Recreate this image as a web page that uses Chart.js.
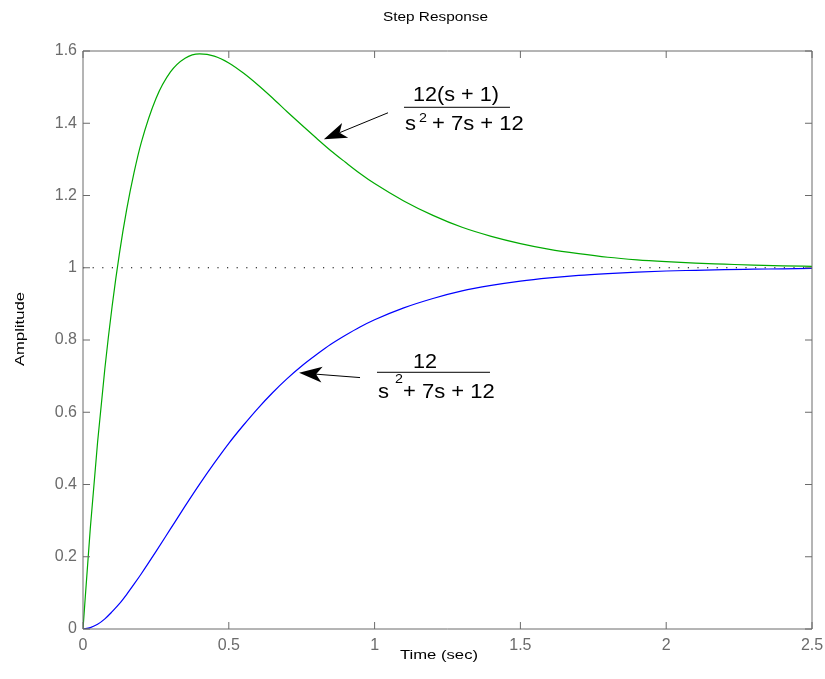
<!DOCTYPE html>
<html><head><meta charset="utf-8">
<script src="https://cdn.jsdelivr.net/npm/chart.js@4/dist/chart.umd.min.js"></script>
<style>html,body{margin:0;padding:0;background:#fff;}#wrap{width:825px;height:679px;position:relative;}</style>
</head><body><div id="wrap"><canvas id="c" width="825" height="679"></canvas></div>
<script>
// ---- data ----
const timeSec = [0, 0.025, 0.05, 0.075, 0.1, 0.125, 0.15, 0.175, 0.2, 0.25, 0.3, 0.35, 0.4, 0.45, 0.5, 0.55, 0.6, 0.65, 0.7, 0.75, 0.8, 0.85, 0.9, 0.95, 1.0, 1.1, 1.2, 1.3, 1.4, 1.5, 1.6, 1.7, 1.8, 1.9, 2.0, 2.1, 2.2, 2.3, 2.4, 2.5];
const respWithZero = [0, 0.278, 0.517, 0.721, 0.894, 1.040, 1.162, 1.263, 1.347, 1.468, 1.542, 1.580, 1.592, 1.586, 1.567, 1.539, 1.506, 1.470, 1.432, 1.395, 1.359, 1.324, 1.292, 1.261, 1.233, 1.185, 1.145, 1.112, 1.087, 1.067, 1.051, 1.039, 1.029, 1.022, 1.017, 1.013, 1.010, 1.007, 1.005, 1.004];
const respNoZero = [0, 0.004, 0.013, 0.028, 0.048, 0.070, 0.096, 0.124, 0.153, 0.214, 0.277, 0.340, 0.401, 0.459, 0.514, 0.564, 0.611, 0.654, 0.693, 0.728, 0.759, 0.788, 0.813, 0.836, 0.856, 0.889, 0.915, 0.936, 0.951, 0.963, 0.972, 0.979, 0.984, 0.988, 0.991, 0.993, 0.995, 0.996, 0.997, 0.998];
const refTime = [0, 2.5];
const refLevel = [1, 1];
const xTickValues = [0, 0.5, 1, 1.5, 2, 2.5];
const xTickLabels = ['0', '0.5', '1', '1.5', '2', '2.5'];
const yTickValues = [0, 0.2, 0.4, 0.6, 0.8, 1, 1.2, 1.4, 1.6];
const yTickLabels = ['0', '0.2', '0.4', '0.6', '0.8', '1', '1.2', '1.4', '1.6'];
const chartTitle = 'Step Response';
const xAxisTitle = 'Time (sec)';
const yAxisTitle = 'Amplitude';
const labelWithZero = ['12(s + 1)', 's', '2', '+ 7s + 12'];
const labelNoZero = ['12', 's', '2', '+ 7s + 12'];

// ---- styling / placement ----
const FONT = "'Liberation Sans', Arial, Helvetica, sans-serif";
const AXIS_GRAY = '#6b6b6b';
const annotationStyle = [
  { text: labelWithZero, tip: [0.826, 1.356], tail: [1.046, 1.429], bar: [1.1008, 1.4442], barW: 106,
    numDx: 9, numDy: -6.6, denDx: [1, 15, 28], denDy: [22.7, 14.4, 22.7] },
  { text: labelNoZero, tip: [0.741, 0.709], tail: [0.950, 0.696], bar: [1.0082, 0.7106], barW: 113,
    numDx: 36, numDy: -4.3, denDx: [1, 18, 26], denDy: [25.7, 10.4, 25.7] }
];

function stretchText(ctx, text, x, y, size, opt) {
  opt = opt || {};
  ctx.save();
  ctx.font = size + 'px ' + FONT;
  ctx.fillStyle = opt.color || '#000';
  ctx.textBaseline = 'alphabetic';
  ctx.textAlign = 'left';
  const w = ctx.measureText(text).width;
  const sx = opt.width ? opt.width / w : (opt.sx || 1);
  ctx.translate(x, y);
  if (opt.rotate) ctx.rotate(opt.rotate);
  ctx.scale(sx, 1);
  const off = opt.align === 'center' ? -w / 2 : 0;
  ctx.fillText(text, off, 0);
  ctx.restore();
}

function drawArrow(ctx, x1, y1, x2, y2) {
  const a = Math.atan2(y2 - y1, x2 - x1);
  const dx = Math.cos(a), dy = Math.sin(a);
  const px = -dy, py = dx;
  const L = 23, W = 8, N = 6;
  ctx.save();
  ctx.strokeStyle = '#000'; ctx.fillStyle = '#000'; ctx.lineWidth = 1;
  ctx.beginPath();
  ctx.moveTo(x1, y1);
  ctx.lineTo(x2 - (L - N) * dx, y2 - (L - N) * dy);
  ctx.stroke();
  ctx.beginPath();
  ctx.moveTo(x2, y2);
  ctx.lineTo(x2 - L * dx + W * px, y2 - L * dy + W * py);
  ctx.lineTo(x2 - (L - N) * dx, y2 - (L - N) * dy);
  ctx.lineTo(x2 - L * dx - W * px, y2 - L * dy - W * py);
  ctx.closePath();
  ctx.fill();
  ctx.restore();
}

const decorPlugin = {
  id: 'decor',
  afterDatasetsDraw(chart) {
    const ctx = chart.ctx;
    const a = chart.chartArea;
    const xs = chart.scales.x, ys = chart.scales.y;
    // frame
    ctx.save();
    ctx.strokeStyle = AXIS_GRAY; ctx.lineWidth = 1;
    ctx.beginPath();
    ctx.rect(a.left, a.top, a.right - a.left, a.bottom - a.top);
    ctx.stroke();
    // inward ticks
    const T = 7;
    ctx.beginPath();
    xTickValues.forEach(v => {
      const p = xs.getPixelForValue(v);
      ctx.moveTo(p, a.bottom); ctx.lineTo(p, a.bottom - T);
      ctx.moveTo(p, a.top); ctx.lineTo(p, a.top + T);
    });
    yTickValues.forEach(v => {
      const p = ys.getPixelForValue(v);
      ctx.moveTo(a.left, p); ctx.lineTo(a.left + T, p);
      ctx.moveTo(a.right, p); ctx.lineTo(a.right - T, p);
    });
    ctx.stroke();
    ctx.restore();
    // titles
    stretchText(ctx, chartTitle, 435.5, 21, 13, { align: 'center', width: 105 });
    stretchText(ctx, xAxisTitle, 439, 658.5, 13, { align: 'center', width: 78 });
    stretchText(ctx, yAxisTitle, 24, 329, 13, { align: 'center', width: 74, rotate: -Math.PI / 2 });
    // annotations
    annotationStyle.forEach(an => {
      const bx = xs.getPixelForValue(an.bar[0]);
      const by = ys.getPixelForValue(an.bar[1]);
      ctx.save();
      ctx.strokeStyle = '#000'; ctx.lineWidth = 1;
      ctx.beginPath(); ctx.moveTo(bx, by); ctx.lineTo(bx + an.barW, by); ctx.stroke();
      ctx.restore();
      stretchText(ctx, an.text[0], bx + an.numDx, by + an.numDy, 20, { sx: 1.08 });
      stretchText(ctx, an.text[1], bx + an.denDx[0], by + an.denDy[0], 20, { sx: 1.1 });
      stretchText(ctx, an.text[2], bx + an.denDx[1], by + an.denDy[1], 13, { sx: 1.1 });
      stretchText(ctx, an.text[3], bx + an.denDx[2], by + an.denDy[2], 20, { sx: 1.1 });
      drawArrow(ctx, xs.getPixelForValue(an.tail[0]), ys.getPixelForValue(an.tail[1]),
                     xs.getPixelForValue(an.tip[0]), ys.getPixelForValue(an.tip[1]));
    });
  }
};

const toPts = (xv, yv) => xv.map((x, i) => ({ x: x, y: yv[i] }));

new Chart(document.getElementById('c'), {
  type: 'line',
  data: {
    datasets: [
      { label: '12/(s^2+7s+12)', data: toPts(timeSec, respNoZero), borderColor: '#0000ff', borderWidth: 1.2,
        pointRadius: 0, cubicInterpolationMode: 'monotone', fill: false },
      { label: '12(s+1)/(s^2+7s+12)', data: toPts(timeSec, respWithZero), borderColor: '#00aa00', borderWidth: 1.2,
        pointRadius: 0, cubicInterpolationMode: 'monotone', fill: false },
      { label: 'steady state', data: toPts(refTime, refLevel), borderColor: '#000', borderWidth: 1.2,
        borderDash: [1.2, 8.4], pointRadius: 0, fill: false }
    ]
  },
  options: {
    responsive: false,
    animation: false,
    devicePixelRatio: 1,
    layout: { padding: { top: 51, right: 13, bottom: 0, left: 0 } },
    plugins: { legend: { display: false }, tooltip: { enabled: false }, title: { display: false } },
    scales: {
      x: {
        type: 'linear', min: 0, max: 2.5,
        afterBuildTicks: s => { s.ticks = xTickValues.map(v => ({ value: v })); },
        afterFit: s => { s.height = 50; s.paddingLeft = 0; s.paddingRight = 0; },
        grid: { display: false, drawTicks: false },
        border: { display: false },
        ticks: { padding: 7, color: AXIS_GRAY, font: { family: FONT, size: 16 }, maxRotation: 0,
                 autoSkip: false, callback: (v, i) => xTickLabels[i] }
      },
      y: {
        type: 'linear', min: 0, max: 1.6,
        afterBuildTicks: s => { s.ticks = yTickValues.map(v => ({ value: v })); },
        afterFit: s => { s.width = 83; s.paddingTop = 0; s.paddingBottom = 0; },
        grid: { display: false, drawTicks: false },
        border: { display: false },
        ticks: { padding: 6, color: AXIS_GRAY, font: { family: FONT, size: 16 },
                 autoSkip: false, callback: (v, i) => yTickLabels[i] }
      }
    }
  },
  plugins: [decorPlugin]
});
</script></body></html>
